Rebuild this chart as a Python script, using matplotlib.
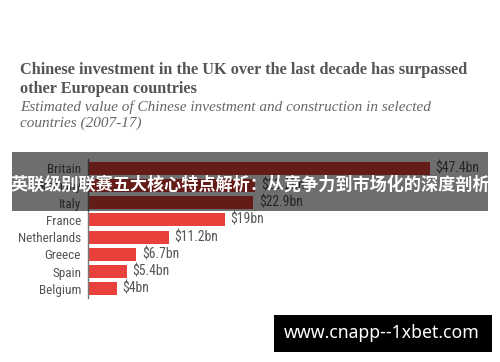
import matplotlib
matplotlib.use("Agg")
import matplotlib.pyplot as plt
from matplotlib import font_manager
from matplotlib.patches import Rectangle

countries = ["Britain", "Germany", "Italy", "France", "Netherlands", "Greece", "Spain", "Belgium"]
values = [47.4, 23.2, 22.9, 19, 11.2, 6.7, 5.4, 4]
value_labels = ["$47.4bn", "$23.2bn", "$22.9bn", "$19bn", "$11.2bn", "$6.7bn", "$5.4bn", "$4bn"]

title = "Chinese investment in the UK over the last decade has surpassed\nother European countries"
subtitle = "Estimated value of Chinese investment and construction in selected\ncountries (2007-17)"
banner = "英联级别联赛五大核心特点解析：从竞争力到市场化的深度剖析"
watermark = "www.cnapp--1xbet.com"

# pick a narrow font for the bar labels if there is one
names = {f.name for f in font_manager.fontManager.ttflist}
narrow = None
for n in ["Liberation Sans Narrow", "Roboto Condensed", "Open Sans Condensed", "DejaVu Sans Condensed"]:
    if n in names:
        narrow = n
        break
cond_stretch = "normal"
if narrow is None:
    if any(f.name == "DejaVu Sans" and f.stretch == "condensed" for f in font_manager.fontManager.ttflist):
        narrow, cond_stretch = "DejaVu Sans", "condensed"
    else:
        narrow = "Roboto"
lab_size = 9.5 if cond_stretch == "condensed" or narrow != "Roboto" else 9

W, H = 500, 362
fig = plt.figure(figsize=(W / 100, H / 100), dpi=100)
fig.patch.set_facecolor("white")
grey = "#555555"

# titles
fig.text(20 / W, 1 - 79.5 / H, title, ha="left", va="center", family="Liberation Serif",
         weight="bold", fontsize=11.7, color=grey, linespacing=1.22)
fig.text(20 / W, 1 - 115 / H, subtitle, ha="left", va="center", family="Liberation Serif",
         style="italic", fontsize=11, color="#666666", linespacing=1.25)

# bar chart
ax = fig.add_axes([88 / W, 1 - 297.6 / H, 400 / W, 138.2 / H])
ax.barh(range(len(values)), values, height=0.75, color="#e8413c")
ax.set_xlim(0, 400 / 7.215)
ax.set_ylim(len(values) - 0.5, -0.5)
ax.set_yticks(range(len(countries)), countries)
for t in ax.get_yticklabels():
    t.set_fontfamily([narrow, "DejaVu Sans"])
    t.set_fontstretch(cond_stretch)
    t.set_fontsize(lab_size)
    t.set_color(grey)
ax.tick_params(axis="y", length=0, pad=5)
ax.set_xticks([])
for s in ["top", "right", "bottom"]:
    ax.spines[s].set_visible(False)
ax.spines["left"].set_color("#777777")
ax.spines["left"].set_linewidth(1)
ax.patch.set_alpha(0)
for i, (v, lab) in enumerate(zip(values, value_labels)):
    ax.annotate(lab, (v, i), xytext=(4, 0), textcoords="offset points", ha="left", va="center",
                family=[narrow, "DejaVu Sans"], stretch=cond_stretch, fontsize=lab_size + 0.3,
                color=grey)

# grey overlay banner
fig.patches.append(Rectangle((12 / W, 1 - 211 / H), 476 / W, 59 / H, transform=fig.transFigure,
                             facecolor="black", alpha=0.57, edgecolor="none", zorder=5))
fig.text(250 / W, 1 - 185 / H, banner, ha="center", va="center", color="white",
         family=["Noto Sans CJK SC", "DejaVu Sans"], weight="bold", fontsize=12.3, zorder=6)

# watermark
fig.patches.append(Rectangle((274 / W, 1 - 352 / H), 218 / W, 37 / H, transform=fig.transFigure,
                             facecolor="black", edgecolor="none", zorder=5))
fig.text(382 / W, 1 - 333 / H, watermark, ha="center", va="center", color="white",
         family="Noto Sans", weight="bold", fontsize=12.7, zorder=6)

fig.savefig("out.png", dpi=100)
